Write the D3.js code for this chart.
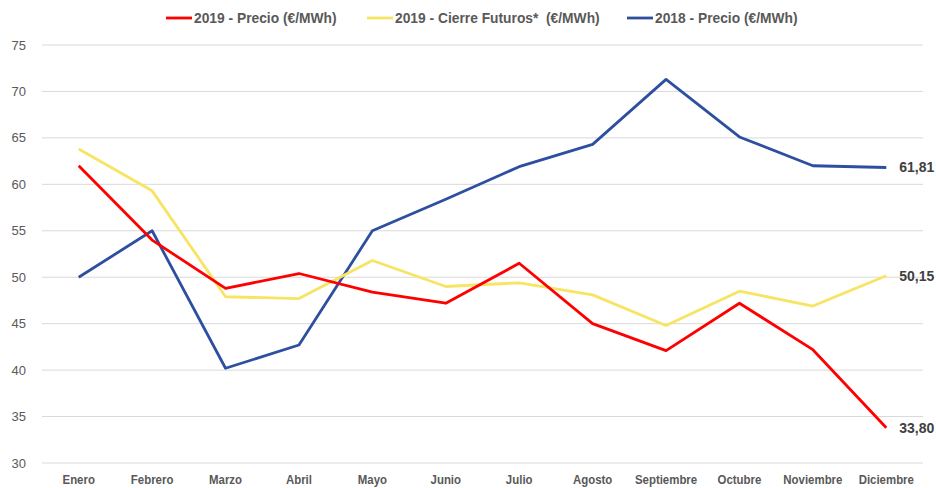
<!DOCTYPE html>
<html>
<head>
<meta charset="utf-8">
<script src="https://cdn.jsdelivr.net/npm/d3@7"></script>
<style>
    body { margin: 0; background: #fff; }
    .axis text { fill: #595959; }
</style>
</head>
<body>
<div class="container"></div>
<script>
"use strict";

var width = 936;
var height = 488;

var months = ["Enero", "Febrero", "Marzo", "Abril", "Mayo", "Junio",
    "Julio", "Agosto", "Septiembre", "Octubre", "Noviembre", "Diciembre"];

var precio2019 = [62.0, 54.0, 48.8, 50.4, 48.4, 47.2, 51.5, 45.0, 42.1, 47.2, 42.2, 33.80];
var futuros2019 = [63.8, 59.3, 47.9, 47.7, 51.8, 49.0, 49.4, 48.1, 44.8, 48.5, 46.9, 50.15];
var precio2018 = [50.0, 55.0, 40.2, 42.7, 55.0, 58.4, 61.9, 64.3, 71.3, 65.1, 62.0, 61.81];

var yTicks = [30, 35, 40, 45, 50, 55, 60, 65, 70, 75];

var series = [
    {name: "2019 - Precio (€/MWh)", values: precio2019, color: "#ff0000", legendX: 166},
    {name: "2019 - Cierre Futuros*  (€/MWh)", values: futuros2019, color: "#f7e463", legendX: 367},
    {name: "2018 - Precio (€/MWh)", values: precio2018, color: "#2e4f9f", legendX: 627}
];

var font = "'Liberation Sans', Arial, sans-serif";
var condense = 0.92; // the original uses a narrower font

var margin = {left: 42, right: 13, top: 45, bottom: 25};

var x = d3.scalePoint()
    .domain(months)
    .range([margin.left, width - margin.right])
    .padding(0.5);

var y = d3.scaleLinear()
    .domain([30, 75])
    .range([height - margin.bottom, margin.top]);

var svg = d3.select(".container").append("svg")
    .attr("width", width)
    .attr("height", height);

// Gridlines
svg.append("g")
    .selectAll("line")
    .data(yTicks)
    .enter().append("line")
    .attr("x1", margin.left)
    .attr("x2", width - margin.right)
    .attr("y1", function(d) { return y(d); })
    .attr("y2", function(d) { return y(d); })
    .attr("stroke", "#d9d9d9")
    .attr("stroke-width", 1);

// Y axis labels
svg.append("g")
    .attr("class", "axis")
    .selectAll("text")
    .data(yTicks)
    .enter().append("text")
    .attr("x", 26)
    .attr("y", function(d) { return y(d); })
    .attr("dy", "0.35em")
    .attr("text-anchor", "end")
    .style("font-family", font)
    .style("font-size", "13px")
    .text(function(d) { return d; });

// X axis labels (condensed bold)
svg.append("g")
    .attr("class", "axis")
    .selectAll("text")
    .data(months)
    .enter().append("text")
    .attr("transform", function(d) { return "translate(" + x(d) + "," + (height - 4) + ") scale(0.88,1)"; })
    .attr("text-anchor", "middle")
    .style("font-family", font)
    .style("font-weight", "bold")
    .style("font-size", "13px")
    .text(function(d) { return d; });

var line = d3.line()
    .x(function(d, i) { return x(months[i]); })
    .y(function(d) { return y(d); });

// Draw lines, 2019 precio on top
[series[2], series[1], series[0]].forEach(function(s) {
    svg.append("path")
        .datum(s.values)
        .attr("fill", "none")
        .attr("stroke", s.color)
        .attr("stroke-width", 2.8)
        .attr("stroke-linejoin", "round")
        .attr("d", line);
});

// End labels
var fmt = function(v) { return v.toFixed(2).replace(".", ","); };
series.forEach(function(s) {
    var last = s.values[s.values.length - 1];
    svg.append("text")
        .attr("x", x(months[months.length - 1]) + 13)
        .attr("y", y(last))
        .attr("dy", "0.35em")
        .style("font-family", font)
        .style("font-weight", "bold")
        .style("font-size", "14px")
        .attr("fill", "#404040")
        .text(fmt(last));
});

// Legend
var legend = svg.append("g");
series.forEach(function(s) {
    var g = legend.append("g").attr("transform", "translate(" + s.legendX + ",18)");
    g.append("line")
        .attr("x1", 0).attr("x2", 26)
        .attr("y1", 0).attr("y2", 0)
        .attr("stroke", s.color)
        .attr("stroke-width", 2.8);
    g.append("text")
        .attr("transform", "translate(28,0) scale(" + condense + ",1)")
        .attr("dy", "0.35em")
        .style("font-family", font)
        .style("font-weight", "bold")
        .style("font-size", "15px")
        .attr("fill", "#595959")
        .style("white-space", "pre")
        .text(s.name);
});
</script>
</body>
</html>
